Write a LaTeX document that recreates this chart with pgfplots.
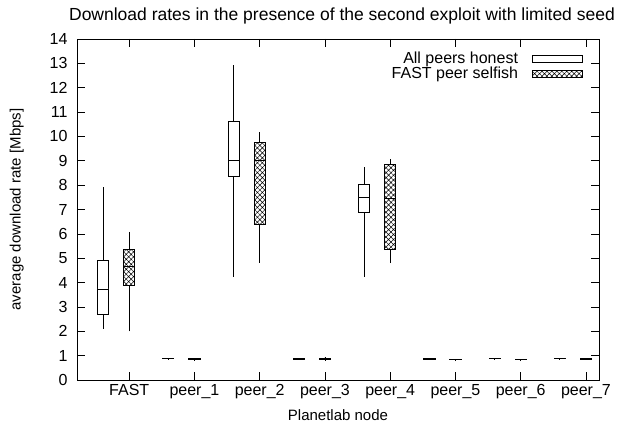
\documentclass[border=0pt]{standalone}
\usepackage{fontspec}
\setmainfont{Liberation Sans}
\usepackage{pgfplots}
\pgfplotsset{compat=1.18}
\usepgfplotslibrary{statistics}
\usetikzlibrary{patterns.meta}
\begin{document}
\begin{tikzpicture}[font=\fontsize{15bp}{18bp}\selectfont]
\begin{axis}[
  name=ax,
  scale only axis,
  width=522bp, height=341bp,
  xmin=-0.8, xmax=7.2,
  ymin=0, ymax=14,
  xtick={0,1,2,3,4,5,6,7},
  xticklabels={FAST,peer\_1,peer\_2,peer\_3,peer\_4,peer\_5,peer\_6,peer\_7},
  ytick={0,1,...,14},
  tick align=inside,
  xtick pos=both, ytick pos=both,
  major tick length=8bp,
  tick style={black, line width=0.6bp},
  axis line style={black, line width=0.8bp},
  tick label style={font=\fontsize{16bp}{19bp}\selectfont},
  yticklabel style={xshift=-6bp},
  xticklabel style={yshift=-1bp},
  /pgf/number format/assume math mode=true,
  title={Download rates in the presence of the second exploit with limited seed},
  title style={yshift=5bp, xshift=4bp, font=\fontsize{17.5bp}{20bp}\selectfont},
  xlabel={Planetlab node},
  ylabel={average download rate [Mbps]},
  xlabel style={yshift=-4bp},
  ylabel style={yshift=19bp},
  legend plot pos=right,
  legend cell align=right,
  legend style={at={(1,1)}, anchor=north east, xshift=-16bp, yshift=-11bp, draw=none, fill=none, row sep=-2bp,
    inner sep=0pt, font=\fontsize{16bp}{19bp}\selectfont},
  legend image code/.code={\path (0bp,0bp); \draw[#1] (12bp,-3.5bp) rectangle (62bp,3.5bp);},
  boxplot/draw direction=y,
  boxplot/box extend=0.17,
  boxplot/whisker extend=0,
]
\addlegendimage{draw=black, line width=0.8bp, fill=white}
\addlegendentry{All peers honest}
\addlegendimage{draw=black, line width=0.8bp, pattern={Hatch[angle=45,distance=3.5bp,line width=0.5bp]}, pattern color=black}
\addlegendentry{FAST peer selfish}

% All peers honest (draw position i-0.4)
\pgfplotsset{hon/.style={forget plot, draw=black, line width=0.8bp, fill=white, solid, mark=none}}
\addplot[hon, boxplot prepared={draw position=-0.4, lower whisker=2.08, lower quartile=2.71, median=3.74, upper quartile=4.93, upper whisker=7.91}] coordinates {};
\addplot[hon, boxplot prepared={draw position=0.6, lower whisker=0.87, lower quartile=0.88, median=0.885, upper quartile=0.89, upper whisker=0.90}] coordinates {};
\addplot[hon, boxplot prepared={draw position=1.6, lower whisker=4.22, lower quartile=8.37, median=9.02, upper quartile=10.63, upper whisker=12.93}] coordinates {};
\addplot[hon, boxplot prepared={draw position=2.6, lower whisker=0.84, lower quartile=0.85, median=0.86, upper quartile=0.87, upper whisker=0.88}] coordinates {};
\addplot[hon, boxplot prepared={draw position=3.6, lower whisker=4.24, lower quartile=6.88, median=7.50, upper quartile=8.05, upper whisker=8.73}] coordinates {};
\addplot[hon, boxplot prepared={draw position=4.6, lower whisker=0.84, lower quartile=0.85, median=0.86, upper quartile=0.87, upper whisker=0.88}] coordinates {};
\addplot[hon, boxplot prepared={draw position=5.6, lower whisker=0.87, lower quartile=0.88, median=0.885, upper quartile=0.89, upper whisker=0.90}] coordinates {};
\addplot[hon, boxplot prepared={draw position=6.6, lower whisker=0.86, lower quartile=0.87, median=0.88, upper quartile=0.89, upper whisker=0.90}] coordinates {};

% FAST peer selfish (draw position i)
\pgfplotsset{sel/.style={forget plot, draw=black, line width=0.9bp, pattern={Hatch[angle=45,distance=3.5bp,line width=0.5bp]}, pattern color=black, solid, mark=none}}
\addplot[sel, boxplot prepared={draw position=0, lower whisker=2.0, lower quartile=3.89, median=4.65, upper quartile=5.36, upper whisker=6.08}] coordinates {};
\addplot[sel, boxplot prepared={draw position=1, lower whisker=0.80, lower quartile=0.85, median=0.86, upper quartile=0.88, upper whisker=0.90}] coordinates {};
\addplot[sel, boxplot prepared={draw position=2, lower whisker=4.79, lower quartile=6.40, median=9.0, upper quartile=9.76, upper whisker=10.19}] coordinates {};
\addplot[sel, boxplot prepared={draw position=3, lower whisker=0.80, lower quartile=0.86, median=0.87, upper quartile=0.89, upper whisker=0.93}] coordinates {};
\addplot[sel, boxplot prepared={draw position=4, lower whisker=4.79, lower quartile=5.34, median=7.46, upper quartile=8.84, upper whisker=9.07}] coordinates {};
\addplot[sel, boxplot prepared={draw position=5, lower whisker=0.76, lower quartile=0.83, median=0.84, upper quartile=0.86, upper whisker=0.87}] coordinates {};
\addplot[sel, boxplot prepared={draw position=6, lower whisker=0.78, lower quartile=0.84, median=0.85, upper quartile=0.86, upper whisker=0.88}] coordinates {};
\addplot[sel, boxplot prepared={draw position=7, lower whisker=0.84, lower quartile=0.86, median=0.87, upper quartile=0.88, upper whisker=0.90}] coordinates {};
\end{axis}
\pgfresetboundingbox
\path ([shift={(-77bp,-55bp)}]ax.south west) rectangle ([shift={(20bp,39bp)}]ax.north east);
\end{tikzpicture}
\end{document}
